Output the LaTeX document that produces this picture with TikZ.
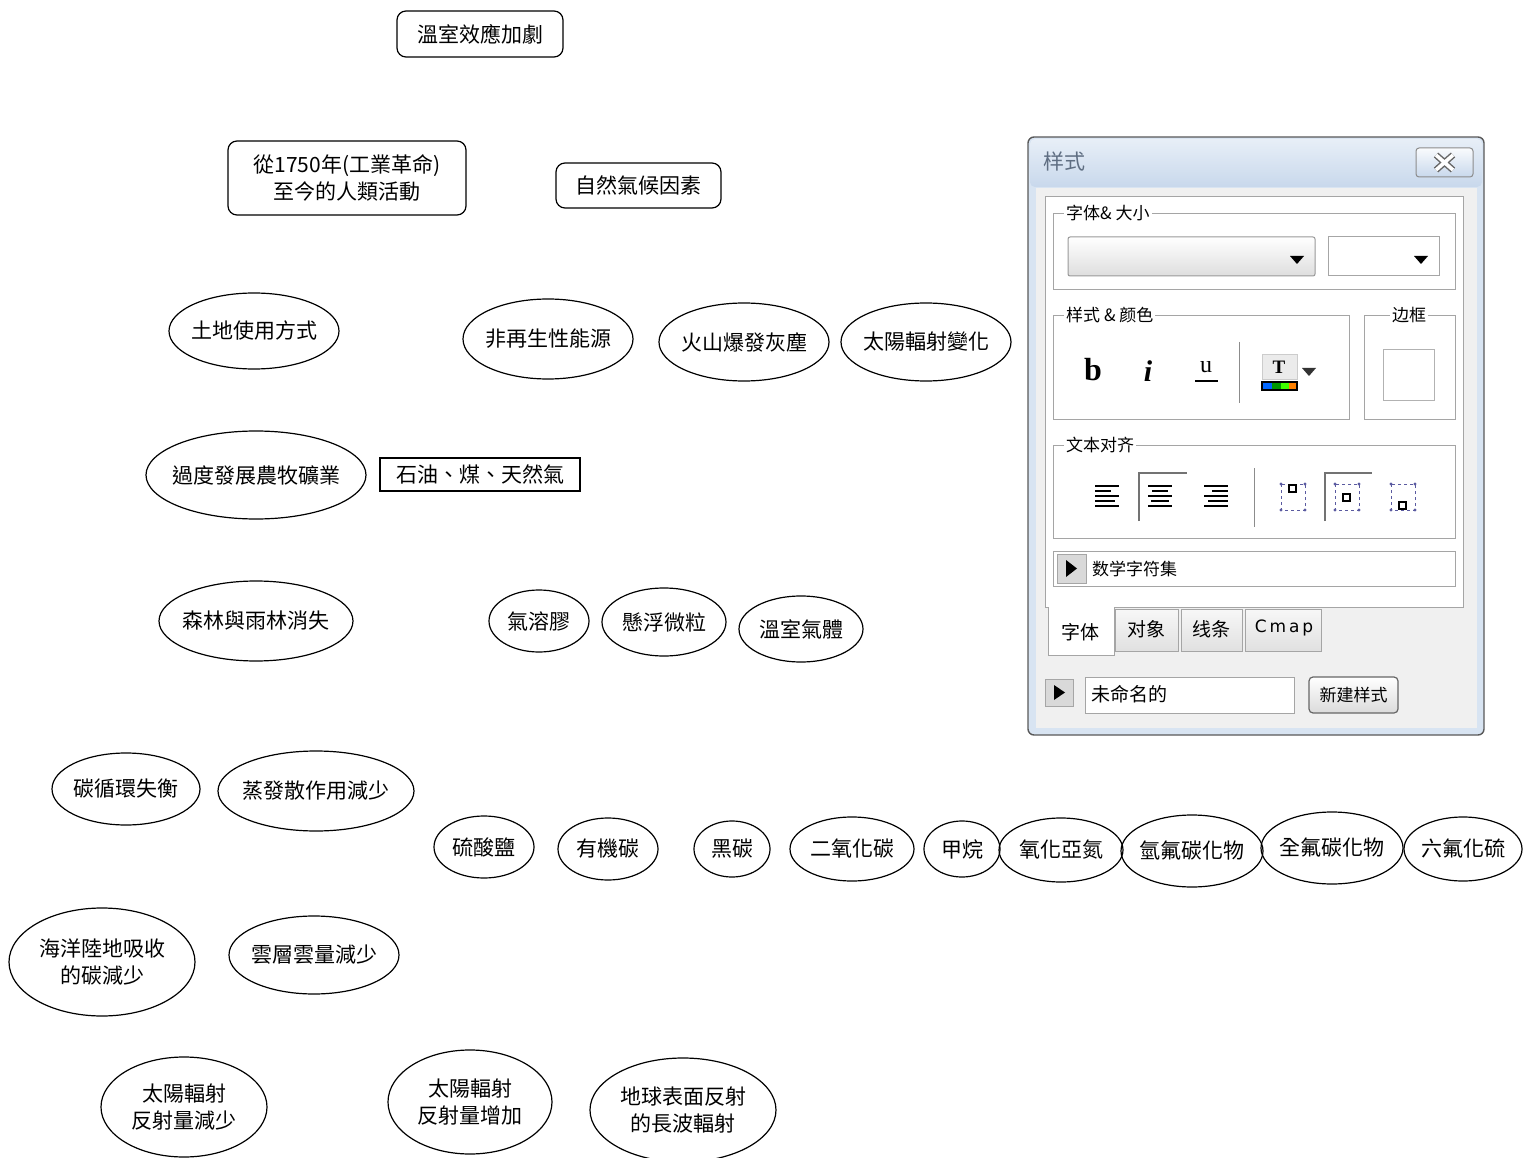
\documentclass[tikz,border=0pt]{standalone}
\usepackage{fontspec}
\setmainfont{Liberation Serif}
\newfontfamily\tcfont{Noto Sans CJK TC}
\newfontfamily\scfont{Noto Sans CJK SC}
\newfontfamily\uisans{DejaVu Sans}
\usetikzlibrary{shapes.geometric}

\definecolor{uigray}{RGB}{240,240,240}
\definecolor{uiline}{RGB}{165,165,165}
\definecolor{uiframe}{RGB}{216,228,242}
\definecolor{uititle}{RGB}{200,216,236}
\definecolor{uitext}{RGB}{95,110,130}
\definecolor{valign}{RGB}{90,90,160}

\begin{document}
\begin{tikzpicture}[x=1pt,y=-1pt,
  every node/.style={font=\tcfont\fontsize{21}{27}\selectfont, inner sep=0pt},
  ell/.style={draw, ellipse, line width=1.2pt, align=center, inner xsep=-8pt},
  rbox/.style={draw, rounded corners=9pt, line width=1.2pt, align=center},
  sbox/.style={draw, line width=2pt, align=center},
  ui/.style={font=\scfont\fontsize{17}{20}\selectfont},
  uitab/.style={font=\scfont\fontsize{19}{22}\selectfont},
  grp/.style={draw=uiline, line width=0.9pt},
  grplabel/.style={ui, fill=white, inner xsep=2pt, anchor=west},
  alignline/.style={line width=1.6pt}
]
\useasboundingbox (0,0) rectangle (1524,1158);

% ---------- concept nodes ----------
\node[rbox, minimum width=166pt, minimum height=46pt] (gh) at (480,34) {溫室效應加劇};
\node[rbox, minimum width=238pt, minimum height=74pt] (human) at (347,178) {從1750年(工業革命)\\至今的人類活動};
\node[rbox, minimum width=165pt, minimum height=45pt] (nat) at (638.5,185.5) {自然氣候因素};

\node[ell, minimum width=170pt, minimum height=76pt] (land) at (254,331) {土地使用方式};
\node[ell, minimum width=170pt, minimum height=80pt] (nonren) at (548,339) {非再生性能源};
\node[ell, minimum width=170pt, minimum height=78pt] (volc) at (744,342) {火山爆發灰塵};
\node[ell, minimum width=170pt, minimum height=78pt] (solar) at (926,342) {太陽輻射變化};

\node[ell, minimum width=220pt, minimum height=88pt] (agri) at (256,475) {過度發展農牧礦業};
\node[sbox, minimum width=200pt, minimum height=33pt] (fossil) at (480,474.5) {石油、煤、天然氣};

\node[ell, minimum width=194pt, minimum height=80pt] (forest) at (256,621) {森林與雨林消失};
\node[ell, minimum width=100pt, minimum height=62pt] (aero) at (539,621) {氣溶膠};
\node[ell, minimum width=124pt, minimum height=68pt] (pm) at (664,622) {懸浮微粒};
\node[ell, minimum width=124pt, minimum height=66pt] (ghg) at (801,629) {溫室氣體};

\node[ell, minimum width=148pt, minimum height=72pt] (carb) at (126,789) {碳循環失衡};
\node[ell, minimum width=196pt, minimum height=80pt] (evap) at (316,791) {蒸發散作用減少};

\node[ell, minimum width=100pt, minimum height=62pt] (sulf) at (484,847) {硫酸鹽};
\node[ell, minimum width=100pt, minimum height=62pt] (orgc) at (608,849) {有機碳};
\node[ell, minimum width=76pt, minimum height=56pt] (blkc) at (732,849) {黑碳};
\node[ell, minimum width=124pt, minimum height=64pt] (co2) at (852,849) {二氧化碳};
\node[ell, minimum width=76pt, minimum height=56pt] (ch4) at (962,849) {甲烷};
\node[ell, minimum width=124pt, minimum height=64pt] (n2o) at (1061,850) {氧化亞氮};
\node[ell, minimum width=142pt, minimum height=72pt] (hfc) at (1192,851) {氫氟碳化物};
\node[ell, minimum width=142pt, minimum height=72pt] (pfc) at (1332,848) {全氟碳化物};
\node[ell, minimum width=118pt, minimum height=64pt] (sf6) at (1463,849) {六氟化硫};

\node[ell, minimum width=186pt, minimum height=108pt] (ocean) at (102,962) {海洋陸地吸收\\的碳減少};
\node[ell, minimum width=170pt, minimum height=78pt] (cloud) at (314,955) {雲層雲量減少};

\node[ell, minimum width=166pt, minimum height=100pt] (refdn) at (184,1107) {太陽輻射\\反射量減少};
\node[ell, minimum width=164pt, minimum height=104pt] (refup) at (470,1102) {太陽輻射\\反射量增加};
\node[ell, minimum width=186pt, minimum height=104pt] (lwave) at (683,1110) {地球表面反射\\的長波輻射};

% ---------- style panel ----------
\draw[rounded corners=6pt, fill=uiframe, draw=black!65, line width=1.4pt] (1028,137) rectangle (1484,735);
\shade[rounded corners=5pt, top color=uiframe!60!white, bottom color=uititle] (1030,139) rectangle (1482,187);
\fill[uigray] (1036,188) rectangle (1477,728);
\node[font=\scfont\fontsize{21}{24}\selectfont, text=uitext, anchor=west] (ptitle) at (1043,162) {样式};

% close button
\draw[rounded corners=3pt, top color=white!90!uititle, bottom color=uititle, draw=black!45, line width=1pt] (1416,148) rectangle (1473,177);
\coordinate (xa) at (1436,155); \coordinate (xb) at (1453,170);
\coordinate (xc) at (1436,170); \coordinate (xd) at (1453,155);
\draw[line width=6.5pt, black!60] (xa) -- (xb) (xc) -- (xd);
\draw[line width=3.6pt, white] (xa) -- (xb) (xc) -- (xd);

% white client panel
\draw[fill=white, draw=uiline, line width=1pt] (1045,197) rectangle (1463,607);

% group: font & size
\draw[grp] (1053,213) rectangle (1455,289);
\node[grplabel] (g1) at (1064,213) {字体\& 大小};
\shade[top color=white, bottom color=black!13] (1068,237) rectangle (1315,276);
\draw[draw=black!40, rounded corners=2pt, line width=1pt] (1068,237) rectangle (1315,276);
\fill (1290,256) -- (1304,256) -- (1297,264) -- cycle;
\draw[fill=white, draw=black!35, line width=1pt] (1328,237) rectangle (1439,276);
\fill (1414,256) -- (1428,256) -- (1421,264) -- cycle;

% group: style & colour
\draw[grp] (1053,315) rectangle (1349,419);
\node[grplabel] (g2) at (1064,315) {样式 \& 颜色};
\node[font=\bfseries\fontsize{32}{32}\selectfont] (bbtn) at (1093,370) {b};
\node[font=\bfseries\itshape\fontsize{30}{30}\selectfont] (ibtn) at (1148,371) {i};
\node[font=\fontsize{24}{24}\selectfont] (ubtn) at (1206,367) {u};
\draw[line width=1.3pt] (1195,381) -- (1218,381);
\draw[draw=black!45, line width=1pt] (1239,342) -- (1239,403);
\draw[fill=black!8, draw=black!20] (1262,354) rectangle (1297,379);
\node[font=\bfseries\fontsize{19}{19}\selectfont] (tbtn) at (1279,367) {T};
\fill[black] (1261,381) rectangle (1298,391);
\fill[blue!60!cyan] (1263,383) rectangle (1272,389);
\fill[green!60!black] (1272,383) rectangle (1281,389);
\fill[green!75!yellow] (1281,383) rectangle (1289,389);
\fill[orange] (1289,383) rectangle (1296,389);
\fill[black!80] (1302,368) -- (1316,368) -- (1309,376) -- cycle;

% group: border
\draw[grp] (1364,315) rectangle (1455,419);
\node[ui, fill=white, inner xsep=2pt] (g3) at (1409,315) {边框};
\draw[draw=black!30, line width=1pt] (1383,350) rectangle (1434,400);

% group: text alignment
\draw[grp] (1053,445) rectangle (1455,538);
\node[grplabel] (g4) at (1064,445) {文本对齐};
% left
\foreach \y/\w in {486/24,491/16,496/24,501/20,506/24}
  \draw[alignline] (1095,\y) -- ++(\w,0);
% centre (pressed)
\draw[black!55, line width=2pt] (1139,521) -- (1139,473) -- (1187,473);
\foreach \y/\w in {486/24,491/16,496/24,501/18,506/24}
  \draw[alignline] (1160-\w/2,\y) -- ++(\w,0);
% right
\foreach \y/\w in {486/24,491/16,496/24,501/20,506/24}
  \draw[alignline] (1228-\w,\y) -- ++(\w,0);
\draw[draw=black!45, line width=1pt] (1254,468) -- (1254,527);
% vertical alignment
\foreach \cx/\sy in {1293/485,1347/494,1403/502}{
  \draw[valign, dashed, line width=0.9pt] (\cx-12,484) rectangle (\cx+12,510);
  \draw[black, line width=1.2pt] (\cx-4,\sy) rectangle (\cx+3,\sy+7);
  \foreach \px in {-12,12} \foreach \py in {484,510}
    \fill[valign] (\cx+\px,\py) circle (1.6pt);
}
\draw[black!55, line width=2pt] (1325,521) -- (1325,473) -- (1372,473);

% math character row
\draw[draw=uiline, line width=1pt] (1053,551) rectangle (1455,586);
\draw[fill=black!15, draw=black!35] (1057,554) rectangle (1086,583);
\fill (1066,560) -- (1077,568.5) -- (1066,577) -- cycle;
\node[ui, anchor=west] (math) at (1092,569) {数学字符集};

% tabs
\draw[fill=white, draw=uiline, line width=1pt] (1045,607) -- (1048,607) -- (1048,655) -- (1114,655) -- (1114,607);
\node[uitab] (tab1) at (1080,632) {字体};
\foreach \a/\b/\t in {1115/1178/对象,1181/1242/线条}{
  \shade[top color=black!3, bottom color=black!12] (\a,609) rectangle (\b,651);
  \draw[draw=uiline, line width=1pt] (\a,609) rectangle (\b,651);
  \node[uitab] at ({(\a+\b)/2},629) {\t};
}
\shade[top color=black!3, bottom color=black!12] (1245,609) rectangle (1321,651);
\draw[draw=uiline, line width=1pt] (1245,609) rectangle (1321,651);
\node[font=\uisans\fontsize{17}{20}\selectfont] (tab4) at (1284,628) {C\,m\,a\,p};

% bottom row
\draw[fill=black!15, draw=black!35] (1045,679) rectangle (1073,706);
\fill (1054,685) -- (1065,692.5) -- (1054,700) -- cycle;
\draw[fill=white, draw=uiline, line width=1pt] (1085,677) rectangle (1294,713);
\node[uitab, anchor=west] (name) at (1091,694) {未命名的};
\draw[rounded corners=4pt, top color=white, bottom color=black!14, draw=black!60, line width=1.2pt] (1309,677) rectangle (1398,713);
\node[ui] (newstyle) at (1353.5,695) {新建样式};
\end{tikzpicture}
\end{document}
